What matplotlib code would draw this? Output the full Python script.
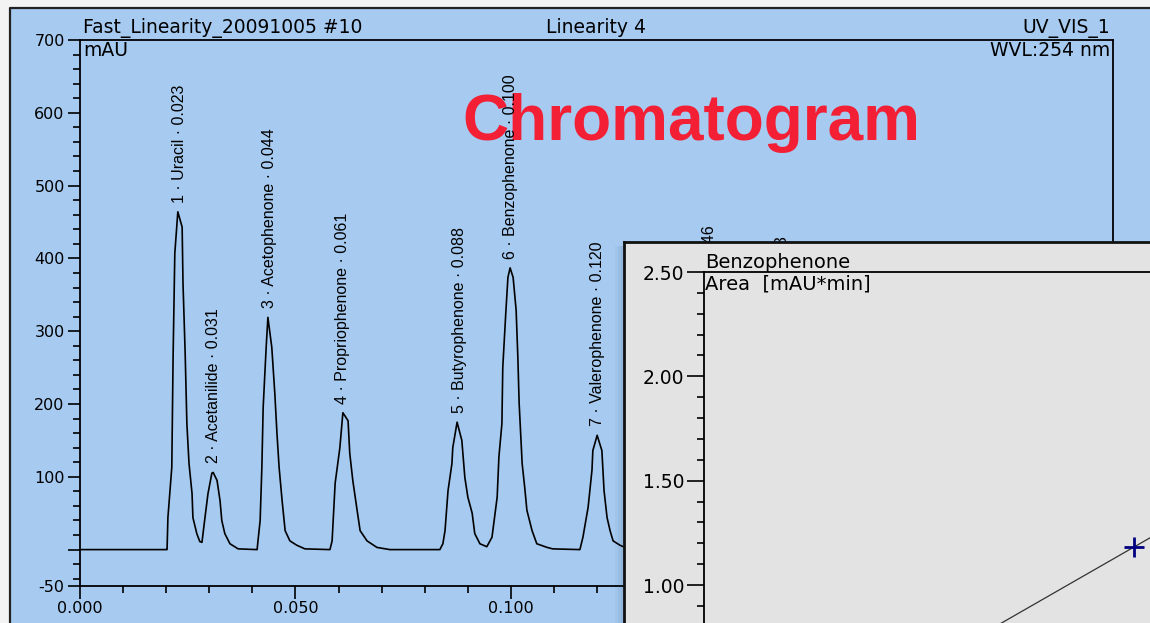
#
# Chromatogram screenshot with calibration inset
#
import matplotlib
matplotlib.use('Agg')
import matplotlib.pyplot as plt
from matplotlib.patches import Rectangle
from matplotlib.lines import Line2D
from matplotlib.ticker import FixedLocator, MultipleLocator, FuncFormatter

#
# Detector trace: time [min], signal [mAU]
#
time_min = [0.0, 0.0200, 0.0202, 0.0204, 0.0213, 0.0216, 0.0220, 0.0227, 0.0237, 0.0239,
            0.0244, 0.0248, 0.0253, 0.0260, 0.0262, 0.0271, 0.0278, 0.0283,
            0.0290, 0.0297, 0.0306, 0.0309, 0.0318, 0.0325, 0.0329, 0.0336, 0.0348, 0.0367, 0.0411,
            0.0413, 0.0418, 0.0422, 0.0425, 0.0432, 0.0436, 0.0445, 0.0452, 0.0457, 0.0462,
            0.0469, 0.0476, 0.0487, 0.0503, 0.0522, 0.0580,
            0.0585, 0.0592, 0.0603, 0.0610, 0.0622, 0.0626, 0.0633, 0.0643, 0.0650, 0.0666,
            0.0689, 0.0719, 0.0835,
            0.0842, 0.0847, 0.0854, 0.0863, 0.0865, 0.0875, 0.0886, 0.0893, 0.0900, 0.0910,
            0.0916, 0.0928, 0.0944,
            0.0956, 0.0968, 0.0972, 0.0979, 0.0981, 0.0988, 0.0993, 0.0998, 0.1005, 0.1012,
            0.1016, 0.1019, 0.1026, 0.1032, 0.1037, 0.1049, 0.1060, 0.1084, 0.1097, 0.1160,
            0.1167, 0.1179, 0.1188, 0.1190, 0.1200, 0.1211, 0.1216, 0.1223, 0.1230, 0.1237,
            0.1253, 0.1265,
            0.1300, 0.1420, 0.1435, 0.1450, 0.1460, 0.1470, 0.1485, 0.1520, 0.1590, 0.1610,
            0.1625, 0.1630, 0.1640, 0.1660, 0.1700, 0.2400]
signal_mau = [0, 0, 0, 44, 113, 264, 407, 464, 443, 366,
              270, 173, 118, 77, 44, 22, 11, 10,
              44, 77, 105, 106, 95, 67, 40, 22, 8, 1, 0,
              12, 40, 113, 195, 278, 319, 278, 215, 160, 113,
              67, 26, 12, 6, 1, 0,
              12, 91, 140, 188, 177, 132, 95, 54, 26, 12,
              3, 0, 0,
              8, 26, 81, 118, 140, 175, 150, 99, 72, 50,
              22, 8, 4,
              17, 72, 127, 173, 250, 325, 374, 387, 374, 329,
              264, 201, 118, 85, 54, 26, 8, 3, 1, 0,
              17, 58, 109, 136, 157, 136, 81, 44, 26, 12,
              6, 3,
              0, 0, 25, 100, 166, 100, 25, 0, 0, 30,
              95, 143, 90, 20, 0, 0]
#
# Peak table
#
peak_no     = [1, 2, 3, 4, 5, 6, 7, 8, 9]
peak_name   = ['Uracil', 'Acetanilide', 'Acetophenone', 'Propriophenone', 'Butyrophenone',
               'Benzophenone', 'Valerophenone', 'Hexanophenone', 'Heptanophenone']
peak_rt     = [0.023, 0.031, 0.044, 0.061, 0.088, 0.100, 0.120, 0.146, 0.163]
peak_height = [464, 106, 319, 188, 175, 387, 157, 166, 143]
#
# Calibration inset (Benzophenone)
#
calib_amount = [5.0]
calib_area   = [1.182]
#
# Axis ticks
#
y_major       = [-50, 0, 100, 200, 300, 400, 500, 600, 700]
y_major_label = ['-50', '', '100', '200', '300', '400', '500', '600', '700']
x_major       = [0.0, 0.05, 0.10, 0.15, 0.20]
inset_y_major = [1.0, 1.5, 2.0, 2.5]

#
# Colours and fonts
#
blue  = '#a6caf0'
grey  = '#e3e3e3'
W, H  = 1150, 623
wide  = 'DejaVu Sans'
arial = 'Liberation Sans'

def fx(x):
    return x / W

def fy(y):
    return 1 - y / H

fig = plt.figure(figsize=(W / 100, H / 100), dpi=100, facecolor='#f3f3f3')

#
# Blue window panel with dark top/left edge
#
fig.add_artist(Rectangle((fx(10), 0), 1 - fx(10), fy(8), transform=fig.transFigure,
                         facecolor=blue, edgecolor='none', zorder=0))
fig.add_artist(Line2D([fx(10), fx(10), 1], [0, fy(8), fy(8)], transform=fig.transFigure,
                      color='#222222', lw=1.6, zorder=0.5))

#
# Main chromatogram axes
#
ax = fig.add_axes([fx(80), fy(586), fx(1113) - fx(80), fy(40) - fy(586)])
ax.set_zorder(1)
ax.set_facecolor(blue)
ax.plot(time_min, signal_mau, color='black', lw=1.2, zorder=3)
ax.set_xlim(0, 0.2397)
ax.set_ylim(-50, 700)
for s in ax.spines.values():
    s.set_linewidth(1.3)
ax.yaxis.set_major_locator(FixedLocator(y_major))
ax.set_yticklabels(y_major_label)
ax.yaxis.set_minor_locator(FixedLocator([v for v in range(-40, 700, 20) if v not in y_major]))
ax.xaxis.set_major_locator(FixedLocator(x_major))
ax.xaxis.set_major_formatter(FuncFormatter(lambda v, p: '%.3f' % v))
ax.xaxis.set_minor_locator(MultipleLocator(0.01))
ax.tick_params(which='major', direction='out', length=9, width=1.2, labelsize=11.5, pad=2)
ax.tick_params(which='minor', direction='out', length=5, width=1.2)
for lab in ax.get_xticklabels() + ax.get_yticklabels():
    lab.set_family(wide)

# red overlay title, below the peak labels
ax.text(fx(691), fy(140), 'Chromatogram', transform=fig.transFigure, ha='center', va='baseline',
        fontsize=46, fontweight='bold', family=arial, color='#f31f35', zorder=2)

for n, name, rt, h in zip(peak_no, peak_name, peak_rt, peak_height):
    ax.annotate('%d · %s · %.3f' % (n, name, rt), xy=(rt, h), xytext=(0, 9),
                textcoords='offset pixels', rotation=90, ha='center', va='bottom',
                fontsize=11.5, family=arial, zorder=4, annotation_clip=False)

fig.text(fx(83), fy(33), 'Fast_Linearity_20091005 #10', ha='left', va='baseline', fontsize=13.5, family=wide)
fig.text(fx(596), fy(33), 'Linearity 4', ha='center', va='baseline', fontsize=13.5, family=wide)
fig.text(fx(1110), fy(33), 'UV_VIS_1', ha='right', va='baseline', fontsize=13.5, family=wide)
ax.text(fx(83), fy(41), 'mAU', transform=fig.transFigure, ha='left', va='top', fontsize=13.5, family=wide)
ax.text(fx(1110), fy(41), 'WVL:254 nm', transform=fig.transFigure, ha='right', va='top',
        fontsize=13.5, family=wide)

#
# Inset window: soft shadow on the left, grey panel, then the calibration axes
#
for i, a in enumerate([0.04, 0.05, 0.06]):
    fig.add_artist(Rectangle((fx(624 - 9 + 3 * i), 0), 1, fy(246), transform=fig.transFigure,
                             facecolor='#1a3a6a', alpha=a, edgecolor='none', zorder=1.5))
panel = fig.add_axes([fx(624), 0, 1 - fx(624), fy(242)])
panel.set_zorder(2)
panel.set_facecolor(grey)
panel.set_xticks([])
panel.set_yticks([])
for k in ['right', 'bottom']:
    panel.spines[k].set_visible(False)
for k in ['left', 'top']:
    panel.spines[k].set_linewidth(2)
    panel.spines[k].set_color('#111111')

y_lo = 0.5
y_px_per_unit = (585 - 272) / 1.5
ins = fig.add_axes([fx(704), fy(585 + (1.0 - y_lo) * y_px_per_unit), fx(1220) - fx(704),
                    (2.5 - y_lo) * y_px_per_unit / H])
ins.set_zorder(3)
ins.patch.set_visible(False)
ins.set_xlim(0, 6)
ins.set_ylim(y_lo, 2.5)
slope = sum(a for a in calib_area) / sum(c for c in calib_amount)
ins.plot([0, 6], [0, 6 * slope], color='#333333', lw=0.9)
ins.plot(calib_amount, calib_area, ls='none', marker='+', ms=14, mew=2, color='#000080')
for k in ['right', 'bottom']:
    ins.spines[k].set_visible(False)
for k in ['left', 'top']:
    ins.spines[k].set_linewidth(1.3)
ins.set_xticks([])
ins.yaxis.set_major_locator(FixedLocator(inset_y_major))
ins.yaxis.set_major_formatter(FuncFormatter(lambda v, p: '%.2f' % v))
ins.yaxis.set_minor_locator(MultipleLocator(0.1))
ins.tick_params(which='major', direction='out', length=12, width=1.2, labelsize=13.5, pad=2)
ins.tick_params(which='minor', direction='out', length=5, width=1.2)
for lab in ins.get_yticklabels():
    lab.set_family(wide)
ins.text(fx(705), fy(268), 'Benzophenone', transform=fig.transFigure, ha='left', va='baseline',
         fontsize=14, family=wide)
ins.text(fx(705), fy(275), 'Area  [mAU*min]', transform=fig.transFigure, ha='left', va='top',
         fontsize=14, family=wide)

fig.savefig('out.png', dpi=100, facecolor=fig.get_facecolor())
